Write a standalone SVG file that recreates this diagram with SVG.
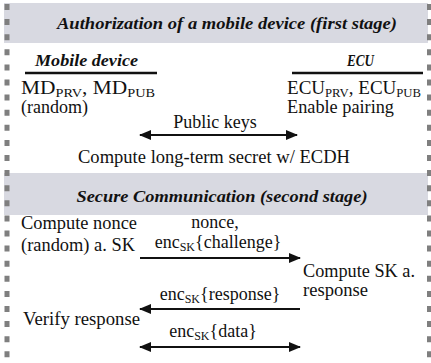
<svg xmlns="http://www.w3.org/2000/svg" width="431" height="363" viewBox="0 0 431 363">
  <style>
    text { font-family: "Liberation Serif", Tinos, "Times New Roman", Times, "DejaVu Serif", serif; fill: #111; }
    .t { font-size: 18px; }
    .h { font-size: 17px; font-weight: bold; font-style: italic; }
    .sub { font-size: 12px; }
    .band { fill: #d8d9e1; }
    .edge { stroke: #7f7f7f; stroke-width: 5; stroke-dasharray: 6 9.1; fill: none; }
    .rule { stroke: #111; stroke-width: 2.5; }
    .msg { stroke: #111; stroke-width: 2; fill: none; }
  </style>
  <defs>
    <marker id="head" markerWidth="12" markerHeight="10" refX="11" refY="5" orient="auto-start-reverse" markerUnits="userSpaceOnUse">
      <path d="M0,0 L12,5 L0,10 Z" fill="#111"/>
    </marker>
  </defs>

  <rect width="431" height="363" fill="#ffffff"/>

  <!-- stage header bands -->
  <rect class="band" x="4" y="3" width="424" height="40"/>
  <rect class="band" x="4" y="173" width="424" height="42"/>

  <!-- dashed frame edges -->
  <line class="edge" x1="7" y1="4" x2="7" y2="363"/>
  <line class="edge" x1="429.5" y1="4" x2="429.5" y2="363"/>

  <g id="stage1-title">
    <text class="h" x="227" y="29" text-anchor="middle" textLength="340" lengthAdjust="spacingAndGlyphs">Authorization of a mobile device (first stage)</text>
  </g>

  <g id="mobile-device">
    <text class="h" x="35" y="66" textLength="103" lengthAdjust="spacingAndGlyphs">Mobile device</text>
    <line class="rule" x1="25" y1="73" x2="157" y2="73"/>
    <text class="t" x="21" y="94" textLength="134" lengthAdjust="spacingAndGlyphs">MD<tspan class="sub" dy="3">PRV</tspan><tspan dy="-3">, MD</tspan><tspan class="sub" dy="3">PUB</tspan></text>
    <text class="t" x="21" y="113">(random)</text>
  </g>

  <g id="ecu">
    <text class="h" x="347" y="66" textLength="27" lengthAdjust="spacingAndGlyphs">ECU</text>
    <line class="rule" x1="292" y1="73" x2="423" y2="73"/>
    <text class="t" x="287" y="94" textLength="134" lengthAdjust="spacingAndGlyphs">ECU<tspan class="sub" dy="3">PRV</tspan><tspan dy="-3">, ECU</tspan><tspan class="sub" dy="3">PUB</tspan></text>
    <text class="t" x="287" y="113" textLength="107" lengthAdjust="spacingAndGlyphs">Enable pairing</text>
  </g>

  <g id="ecdh">
    <text class="t" x="214" y="163" text-anchor="middle" textLength="272" lengthAdjust="spacingAndGlyphs">Compute long-term secret w/ ECDH</text>
  </g>

  <g id="stage2-title">
    <text class="h" x="222" y="202" text-anchor="middle" textLength="291" lengthAdjust="spacingAndGlyphs">Secure Communication (second stage)</text>
  </g>

  <g id="md-nonce">
    <text class="t" x="21" y="229" textLength="116" lengthAdjust="spacingAndGlyphs">Compute nonce</text>
    <text class="t" x="21" y="251" textLength="114" lengthAdjust="spacingAndGlyphs">(random) a. SK</text>
  </g>

  <g id="ecu-response">
    <text class="t" x="303" y="277" textLength="112" lengthAdjust="spacingAndGlyphs">Compute SK a.</text>
    <text class="t" x="303" y="296" textLength="65" lengthAdjust="spacingAndGlyphs">response</text>
  </g>

  <g id="md-verify">
    <text class="t" x="23" y="325" textLength="117" lengthAdjust="spacingAndGlyphs">Verify response</text>
  </g>

  <g id="connectors">
    <line class="msg" x1="140" y1="135" x2="297" y2="135" marker-start="url(#head)" marker-end="url(#head)"/>
    <text class="t" x="215" y="128" text-anchor="middle">Public keys</text>

    <line class="msg" x1="140" y1="258" x2="300" y2="258" marker-end="url(#head)"/>
    <text class="t" x="215" y="228" text-anchor="middle">nonce,</text>
    <text class="t" x="218" y="248" text-anchor="middle">enc<tspan class="sub" dy="3">SK</tspan><tspan dy="-3">{challenge}</tspan></text>

    <line class="msg" x1="300" y1="309" x2="140" y2="309" marker-end="url(#head)"/>
    <text class="t" x="220" y="300" text-anchor="middle">enc<tspan class="sub" dy="3">SK</tspan><tspan dy="-3">{response}</tspan></text>

    <line class="msg" x1="140" y1="347" x2="300" y2="347" marker-start="url(#head)" marker-end="url(#head)"/>
    <text class="t" x="213" y="337" text-anchor="middle">enc<tspan class="sub" dy="3">SK</tspan><tspan dy="-3">{data}</tspan></text>
  </g>
</svg>
